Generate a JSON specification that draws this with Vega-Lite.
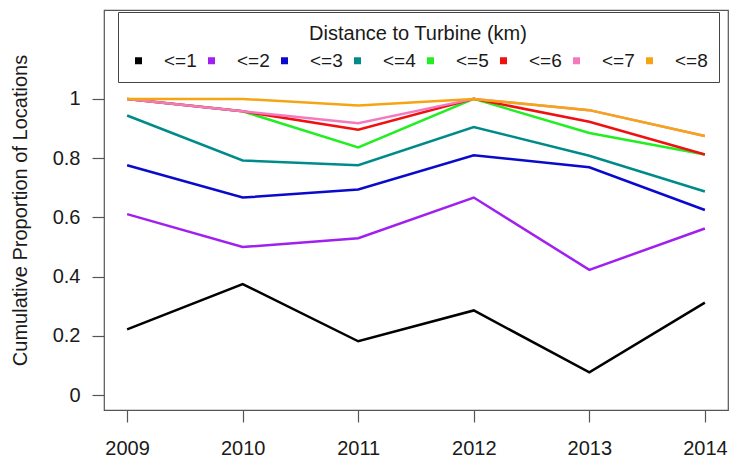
{
  "$schema": "https://vega.github.io/schema/vega-lite/v6.json",
  "width": 624,
  "height": 400,
  "autosize": {"type": "none"},
  "padding": {"left": 104, "top": 10, "right": 2, "bottom": 49},
  "background": "white",
  "config": {
    "font": "Liberation Sans",
    "view": {"stroke": "#555", "strokeWidth": 1.2},
    "axis": {
      "grid": false,
      "domain": false,
      "tickColor": "#555",
      "tickWidth": 1.2,
      "tickSize": 12,
      "labelFont": "Liberation Sans",
      "labelFontSize": 20,
      "labelColor": "#1a1a1a",
      "titleFont": "Liberation Sans",
      "titleFontSize": 20,
      "titleFontWeight": "normal",
      "titleColor": "#1a1a1a"
    }
  },
  "data": {
    "values": [
      {"year": 2009, "dist": "<=1", "prop": 0.222},
      {"year": 2010, "dist": "<=1", "prop": 0.375},
      {"year": 2011, "dist": "<=1", "prop": 0.182},
      {"year": 2012, "dist": "<=1", "prop": 0.286},
      {"year": 2013, "dist": "<=1", "prop": 0.077},
      {"year": 2014, "dist": "<=1", "prop": 0.3125},
      {"year": 2009, "dist": "<=2", "prop": 0.611},
      {"year": 2010, "dist": "<=2", "prop": 0.5},
      {"year": 2011, "dist": "<=2", "prop": 0.53},
      {"year": 2012, "dist": "<=2", "prop": 0.667},
      {"year": 2013, "dist": "<=2", "prop": 0.423},
      {"year": 2014, "dist": "<=2", "prop": 0.5625},
      {"year": 2009, "dist": "<=3", "prop": 0.776},
      {"year": 2010, "dist": "<=3", "prop": 0.667},
      {"year": 2011, "dist": "<=3", "prop": 0.694},
      {"year": 2012, "dist": "<=3", "prop": 0.81},
      {"year": 2013, "dist": "<=3", "prop": 0.769},
      {"year": 2014, "dist": "<=3", "prop": 0.625},
      {"year": 2009, "dist": "<=4", "prop": 0.944},
      {"year": 2010, "dist": "<=4", "prop": 0.792},
      {"year": 2011, "dist": "<=4", "prop": 0.776},
      {"year": 2012, "dist": "<=4", "prop": 0.905},
      {"year": 2013, "dist": "<=4", "prop": 0.808},
      {"year": 2014, "dist": "<=4", "prop": 0.6875},
      {"year": 2009, "dist": "<=5", "prop": 1.0},
      {"year": 2010, "dist": "<=5", "prop": 0.958},
      {"year": 2011, "dist": "<=5", "prop": 0.836},
      {"year": 2012, "dist": "<=5", "prop": 1.0},
      {"year": 2013, "dist": "<=5", "prop": 0.885},
      {"year": 2014, "dist": "<=5", "prop": 0.8125},
      {"year": 2009, "dist": "<=6", "prop": 1.0},
      {"year": 2010, "dist": "<=6", "prop": 0.958},
      {"year": 2011, "dist": "<=6", "prop": 0.896},
      {"year": 2012, "dist": "<=6", "prop": 1.0},
      {"year": 2013, "dist": "<=6", "prop": 0.923},
      {"year": 2014, "dist": "<=6", "prop": 0.8125},
      {"year": 2009, "dist": "<=7", "prop": 1.0},
      {"year": 2010, "dist": "<=7", "prop": 0.958},
      {"year": 2011, "dist": "<=7", "prop": 0.918},
      {"year": 2012, "dist": "<=7", "prop": 1.0},
      {"year": 2013, "dist": "<=7", "prop": 0.962},
      {"year": 2014, "dist": "<=7", "prop": 0.875},
      {"year": 2009, "dist": "<=8", "prop": 1.0},
      {"year": 2010, "dist": "<=8", "prop": 1.0},
      {"year": 2011, "dist": "<=8", "prop": 0.978},
      {"year": 2012, "dist": "<=8", "prop": 1.0},
      {"year": 2013, "dist": "<=8", "prop": 0.962},
      {"year": 2014, "dist": "<=8", "prop": 0.875}
    ]
  },
  "mark": {"type": "line", "strokeWidth": 2.5, "strokeJoin": "miter", "clip": true},
  "encoding": {
    "x": {
      "field": "year",
      "type": "quantitative",
      "scale": {"domain": [2008.8, 2014.2], "nice": false, "zero": false},
      "axis": {
        "values": [2009, 2010, 2011, 2012, 2013, 2014],
        "format": "d",
        "labelPadding": 16,
        "title": null
      }
    },
    "y": {
      "field": "prop",
      "type": "quantitative",
      "scale": {"domain": [-0.05, 1.3], "nice": false, "zero": false},
      "axis": {
        "values": [0, 0.2, 0.4, 0.6, 0.8, 1],
        "format": "~g",
        "labelPadding": 12,
        "title": "Cumulative Proportion of Locations",
        "titlePadding": 22
      }
    },
    "color": {
      "field": "dist",
      "type": "nominal",
      "scale": {
        "domain": ["<=1", "<=2", "<=3", "<=4", "<=5", "<=6", "<=7", "<=8"],
        "range": ["#000000", "#A020F0", "#0A0ACD", "#008B8B", "#22EE22", "#F01010", "#F47AC0", "#F5A514"]
      },
      "legend": {
        "title": "Distance to Turbine (km)",
        "orient": "none",
        "legendX": 14,
        "legendY": 2,
        "direction": "horizontal",
        "columns": 8,
        "padding": 11,
        "strokeColor": "#444",
        "fillColor": "white",
        "titleAnchor": "middle",
        "titleLimit": 600,
        "titleFontSize": 20,
        "titleFontWeight": "normal",
        "titleColor": "#1a1a1a",
        "titlePadding": 8,
        "labelFontSize": 19,
        "labelColor": "#1a1a1a",
        "labelOffset": 16,
        "columnPadding": 5,
        "symbolType": "square",
        "symbolSize": 49,
        "symbolStrokeWidth": 0,
        "encode": {
          "title": {"update": {"dy": {"value": 1}}},
          "symbols": {
            "update": {
              "fill": {"scale": "color", "field": "value"},
              "fillOpacity": {"value": 1}
            }
          }
        }
      }
    }
  }
}
